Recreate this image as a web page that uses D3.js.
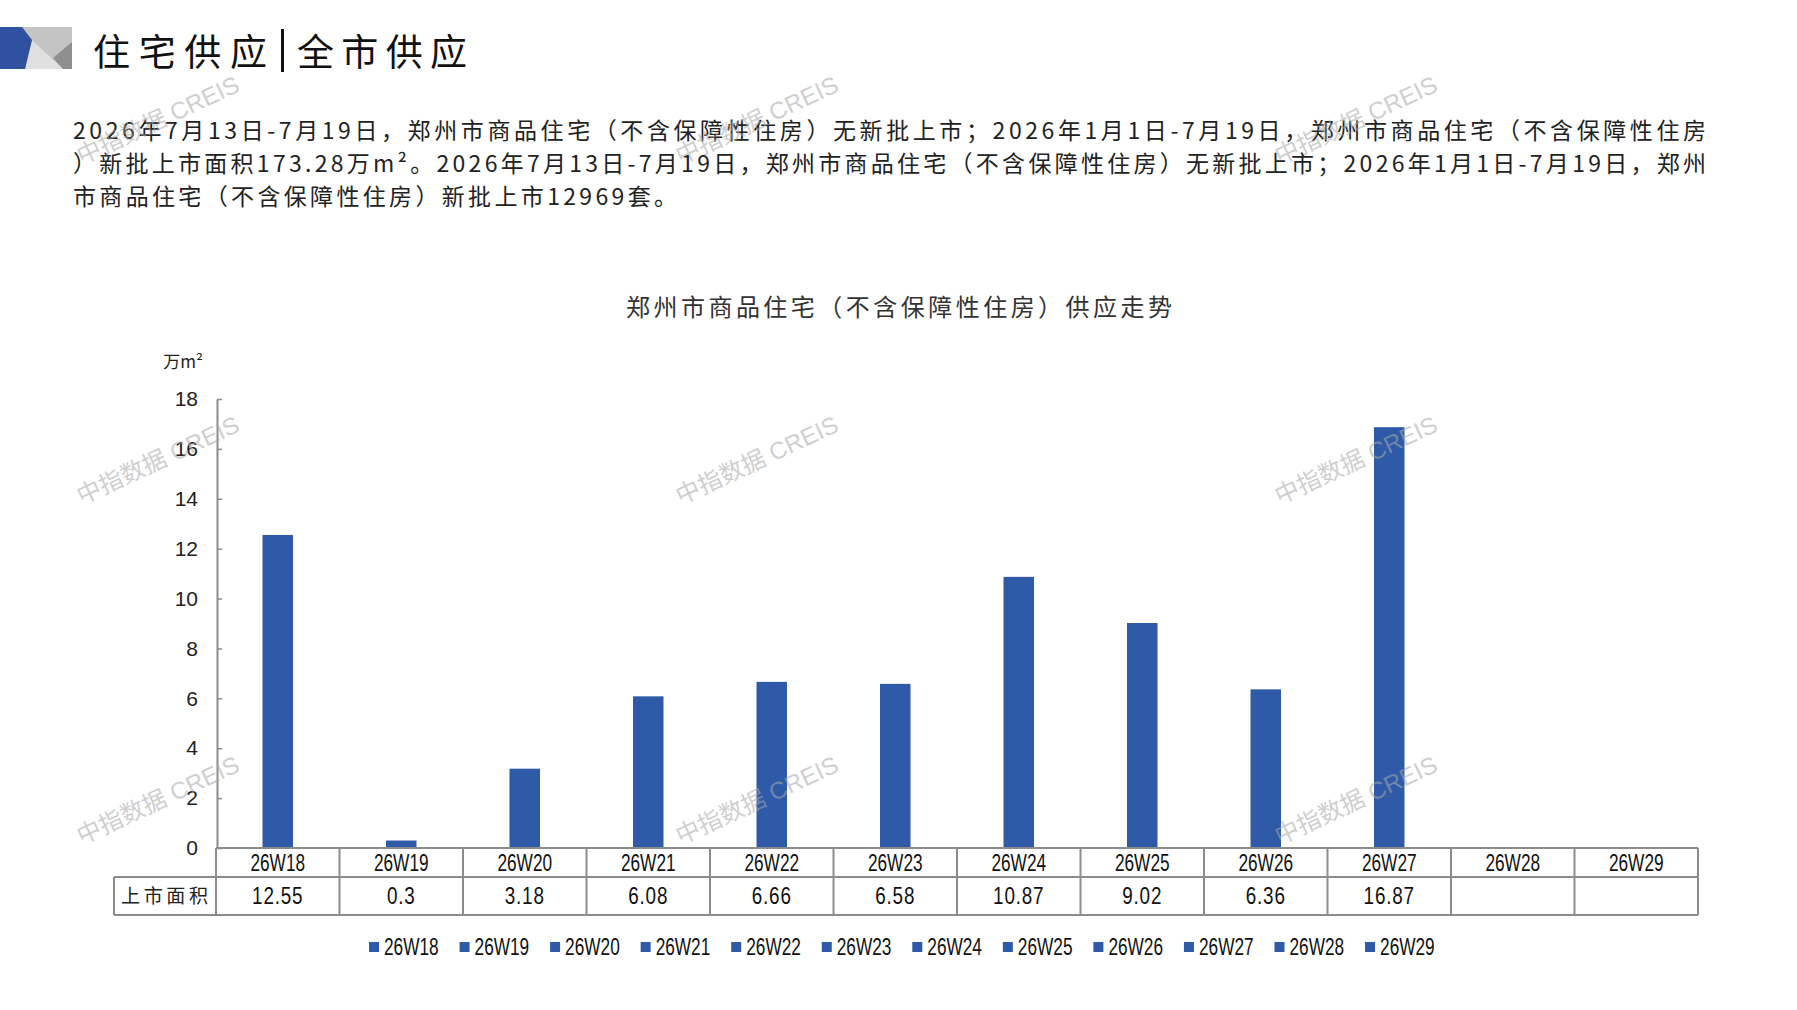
<!DOCTYPE html>
<html>
<head>
<meta charset="utf-8">
<script src="https://cdn.jsdelivr.net/npm/d3@7"></script>
<style>
    body { margin: 0; background: #fff; }
    svg { display: block; }
</style>
</head>
<body>
<div id="chart"></div>
<script>
// data
const weeks = ["26W18", "26W19", "26W20", "26W21", "26W22", "26W23",
               "26W24", "26W25", "26W26", "26W27", "26W28", "26W29"];
const area = [12.55, 0.3, 3.18, 6.08, 6.66, 6.58, 10.87, 9.02, 6.36, 16.87, null, null];
const yTicks = [0, 2, 4, 6, 8, 10, 12, 14, 16, 18];
const rowLabel = "上市面积";
const pageTitle = ["住宅供应", "全市供应"];
const chartTitle = "郑州市商品住宅（不含保障性住房）供应走势";
const unitLabel = "万m²";
const paragraph = [
    "2026年7月13日-7月19日，郑州市商品住宅（不含保障性住房）无新批上市；2026年1月1日-7月19日，郑州市商品住宅（不含保障性住房",
    "）新批上市面积173.28万m²。2026年7月13日-7月19日，郑州市商品住宅（不含保障性住房）无新批上市；2026年1月1日-7月19日，郑州",
    "市商品住宅（不含保障性住房）新批上市12969套。"
];
const watermark = "中指数据 CREIS";

const W = 1797, H = 1010;
const blue = "#2e5aa8";
const grid = "#8c8c8c";
const latin = "'Liberation Sans', 'Noto Sans CJK SC', sans-serif";
const cjk = "'Noto Sans CJK SC', sans-serif";

// squeeze a text selection horizontally, the reference uses a narrow face
function condense(sel, k) {
    sel.each(function () {
        const w = this.getComputedTextLength();
        if (w > 0) {
            d3.select(this)
                .attr("textLength", w * k)
                .attr("lengthAdjust", "spacingAndGlyphs");
        }
    });
}

const svg = d3.select("#chart").append("svg")
    .attr("width", W)
    .attr("height", H);

// ---- header logo ----
const logo = svg.append("g");
logo.append("rect").attr("x", 22).attr("y", 27).attr("width", 50).attr("height", 42).attr("fill", "#c4c4c4");
logo.append("polygon").attr("points", "32,40 25,69 63,69").attr("fill", "#e0e0e0");
logo.append("polygon").attr("points", "72,42 53,58 63,69 72,69").attr("fill", "#8f8f8f");
logo.append("polygon").attr("points", "0,27 22,27 32,40 25,69 0,69").attr("fill", "#3050a0");

// ---- page title ----
svg.append("text")
    .attr("x", 93).attr("y", 66)
    .attr("textLength", 174).attr("lengthAdjust", "spacing")
    .style("font-family", cjk).style("font-size", "37px").style("fill", "#111")
    .text(pageTitle[0]);
svg.append("rect").attr("x", 281).attr("y", 29).attr("width", 3).attr("height", 43).attr("fill", "#111");
svg.append("text")
    .attr("x", 297).attr("y", 66)
    .attr("textLength", 170).attr("lengthAdjust", "spacing")
    .style("font-family", cjk).style("font-size", "37px").style("fill", "#111")
    .text(pageTitle[1]);

// ---- paragraph (justified lines) ----
const lineLen = [1633, 1633, 604];
svg.append("g").selectAll("text")
    .data(paragraph)
    .enter().append("text")
    .attr("x", 73)
    .attr("y", (d, i) => 139 + i * 33)
    .attr("textLength", (d, i) => lineLen[i])
    .attr("lengthAdjust", "spacing")
    .style("font-family", cjk)
    .style("font-size", "23px")
    .style("fill", "#222")
    .text(d => d);

// ---- chart title ----
svg.append("text")
    .attr("x", 626).attr("y", 316)
    .attr("textLength", 546).attr("lengthAdjust", "spacing")
    .style("font-family", cjk).style("font-size", "24px").style("fill", "#333")
    .text(chartTitle);

// ---- scales ----
const x = d3.scaleBand().domain(weeks).range([216, 1698]);
const y = d3.scaleLinear().domain([0, 18]).range([848, 399]);

// ---- bars ----
const barW = x.bandwidth() * 0.247;
svg.append("g").selectAll("rect")
    .data(weeks.map((w, i) => ({ key: w, value: area[i] })).filter(d => d.value != null))
    .enter().append("rect")
    .attr("x", d => x(d.key) + (x.bandwidth() - barW) / 2)
    .attr("y", d => y(d.value))
    .attr("width", barW)
    .attr("height", d => y(0) - y(d.value))
    .attr("fill", blue);

// ---- y axis (ticks point inward) ----
const yAxis = svg.append("g")
    .attr("transform", "translate(217,0)")
    .call(d3.axisLeft(y).tickValues(yTicks).tickSizeInner(-5).tickSizeOuter(0).tickPadding(19));
yAxis.select(".domain").attr("stroke", grid).attr("stroke-width", 2);
yAxis.selectAll(".tick line").attr("stroke", grid).attr("stroke-width", 1.5);
yAxis.selectAll(".tick text")
    .style("font-family", latin)
    .style("font-size", "21px")
    .style("fill", "#222");

svg.append("text")
    .attr("x", 203).attr("y", 368)
    .attr("text-anchor", "end")
    .style("font-family", cjk).style("font-size", "17px").style("fill", "#222")
    .text(unitLabel);

// ---- data table ----
const table = svg.append("g")
    .attr("stroke", grid)
    .attr("stroke-width", 2)
    .attr("fill", "none");
const rowTop = 848, rowMid = 877, rowBot = 915;
table.append("line").attr("x1", 216).attr("x2", 1698).attr("y1", rowTop).attr("y2", rowTop);
table.append("line").attr("x1", 114).attr("x2", 1698).attr("y1", rowMid).attr("y2", rowMid);
table.append("line").attr("x1", 114).attr("x2", 1698).attr("y1", rowBot).attr("y2", rowBot);
table.append("line").attr("x1", 114).attr("x2", 114).attr("y1", rowMid).attr("y2", rowBot);
table.selectAll(".vline")
    .data(weeks.concat(["end"]))
    .enter().append("line")
    .attr("class", "vline")
    .attr("x1", (d, i) => 216 + i * x.bandwidth())
    .attr("x2", (d, i) => 216 + i * x.bandwidth())
    .attr("y1", rowTop).attr("y2", rowBot);

svg.append("g").selectAll("text")
    .data(weeks)
    .enter().append("text")
    .attr("x", d => x(d) + x.bandwidth() / 2)
    .attr("y", (rowTop + rowMid) / 2)
    .attr("dy", "0.36em")
    .attr("text-anchor", "middle")
    .style("font-family", latin).style("font-size", "23px").style("fill", "#111")
    .text(d => d)
    .call(condense, 0.75);

svg.append("g").selectAll("text")
    .data(weeks.map((w, i) => ({ key: w, value: area[i] })))
    .enter().append("text")
    .attr("x", d => x(d.key) + x.bandwidth() / 2)
    .attr("y", (rowMid + rowBot) / 2)
    .attr("dy", "0.36em")
    .attr("text-anchor", "middle")
    .style("font-family", latin).style("font-size", "23px").style("fill", "#111")
    .style("letter-spacing", "1px")
    .text(d => d.value == null ? "" : d.value)
    .call(condense, 0.82);

svg.append("text")
    .attr("x", 121).attr("y", (rowMid + rowBot) / 2)
    .attr("dy", "0.36em")
    .attr("textLength", 87).attr("lengthAdjust", "spacing")
    .style("font-family", cjk).style("font-size", "19px").style("fill", "#222")
    .text(rowLabel);

// ---- legend ----
const lx = d3.scaleBand().domain(weeks).range([369, 369 + 12 * 90.55]);
const legend = svg.append("g").selectAll("g")
    .data(weeks)
    .enter().append("g")
    .attr("transform", d => `translate(${lx(d)},947)`);
legend.append("rect")
    .attr("x", 0).attr("y", -5).attr("width", 10).attr("height", 10)
    .attr("fill", blue);
legend.append("text")
    .attr("x", 15).attr("dy", "0.36em")
    .style("font-family", latin).style("font-size", "23px").style("fill", "#111")
    .text(d => d)
    .call(condense, 0.75);

// ---- watermarks ----
const wmX = [158, 757, 1356];
const wmY = [120, 460, 800];
svg.append("g").selectAll("text")
    .data(d3.cross(wmY, wmX))
    .enter().append("text")
    .attr("transform", d => `translate(${d[1]},${d[0]}) rotate(-25)`)
    .attr("text-anchor", "middle")
    .attr("dy", "0.35em")
    .style("font-family", latin)
    .style("font-size", "24px")
    .style("fill", "#a8a8a8")
    .style("opacity", 0.55)
    .text(watermark);
</script>
</body>
</html>
